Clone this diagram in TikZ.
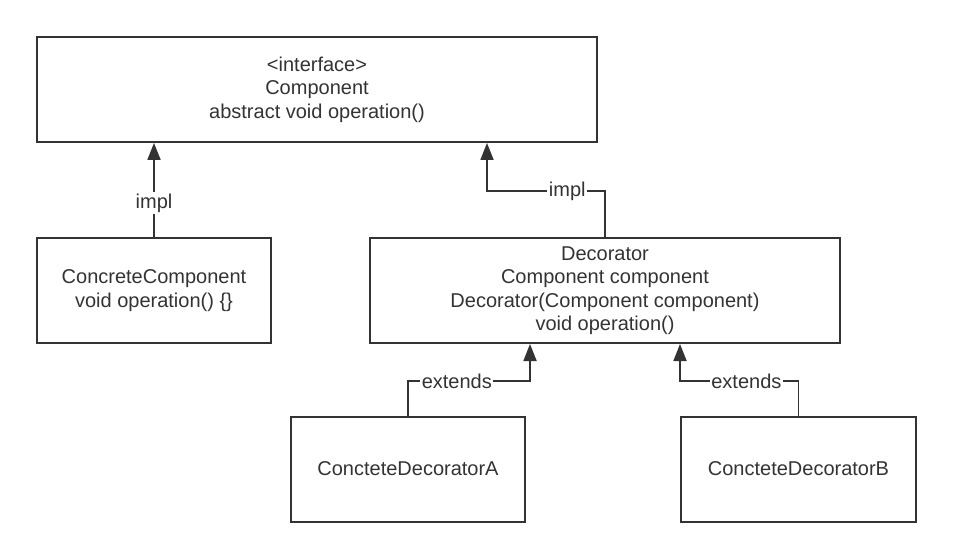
\documentclass[tikz,border=0pt]{standalone}
\usepackage{fontspec}
\setmainfont{Liberation Sans}
\usetikzlibrary{arrows.meta}
\definecolor{umlgray}{HTML}{333333}
\begin{document}
\begin{tikzpicture}[x=1pt,y=-1pt,color=umlgray,
classbox/.style={draw,rectangle,align=center,minimum height=105pt,line width=2pt,font=\fontsize{20}{23.5}\selectfont},
relation/.style={line width=1.8pt,-{Triangle[length=17pt,width=13pt]}},
rellabel/.style={fill=white,inner sep=1.5pt,font=\fontsize{20}{23.5}\selectfont}]

\useasboundingbox (0,0) rectangle (953,559);

\draw (317,89.5) node[classbox,minimum width=560pt] (comp) {<interface>\\ Component\\ abstract void operation()};

\draw (154,290.5) node[classbox,minimum width=234pt] (concrete) {ConcreteComponent\\ void operation() \{\}};
\draw (605,290.5) node[classbox,minimum width=470pt] (deco) {Decorator\\ Component component\\ Decorator(Component component)\\ void operation()};

\draw (408,469) node[classbox,minimum width=234pt] (decoA) {ConcteteDecoratorA};
\draw (798.5,469) node[classbox,minimum width=235pt] (decoB) {ConcteteDecoratorB};

%\draw (317,-20) node {Decorator pattern};

\coordinate (implB) at ([xshift=170pt]comp.south);
\coordinate (extA) at ([xshift=-75pt]deco.south);
\coordinate (extB) at ([xshift=75pt]deco.south);

\draw[relation] (concrete.north) -- node[rellabel,pos=0.36] {impl} (concrete.north |- comp.south);
\draw[relation] (deco.north) |- node[rellabel,pos=0.66] {impl} ([yshift=-48pt]implB) -- (implB);

\draw[relation] (decoA.north) |- node[rellabel,pos=0.70] {extends} ([yshift=-37pt]extA) -- (extA);
\draw[relation] (decoB.north) |- node[rellabel,pos=0.72] {extends} ([yshift=-37pt]extB) -- (extB);
\end{tikzpicture}
\end{document}
